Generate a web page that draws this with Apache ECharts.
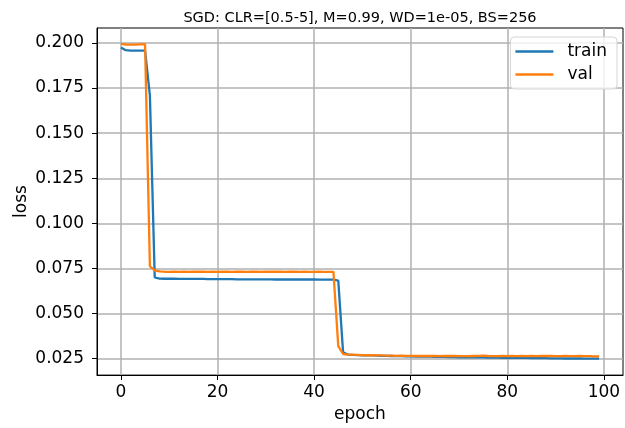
<!DOCTYPE html>
<html>
<head>
<meta charset="utf-8">
<script src="https://cdn.jsdelivr.net/npm/echarts@6/dist/echarts.min.js"></script>
<style>html,body{margin:0;padding:0;background:#fff;}#c{width:625px;height:428px;}</style>
</head>
<body>
<div id="c"></div>
<script>
const epochs = Array.from({length: 100}, (_, i) => i);
const train = [0.1975,0.1960,0.1958,0.1958,0.1958,0.1958,0.1710,0.0700,0.0694,0.0693,
 0.0693,0.0693,0.0692,0.0692,0.0692,0.0692,0.0692,0.0692,0.0691,0.0691,
 0.0691,0.0691,0.0691,0.0691,0.0690,0.0690,0.0690,0.0690,0.0690,0.0690,
 0.0690,0.0690,0.0689,0.0689,0.0689,0.0689,0.0689,0.0689,0.0689,0.0689,
 0.0689,0.0688,0.0688,0.0688,0.0688,0.0683,0.0285,0.0273,0.0271,0.0270,
 0.0269,0.0268,0.0268,0.0267,0.0266,0.0266,0.0265,0.0264,0.0264,0.0263,
 0.0263,0.0262,0.0262,0.0261,0.0261,0.0260,0.0260,0.0260,0.0259,0.0259,
 0.0258,0.0258,0.0258,0.0257,0.0257,0.0257,0.0256,0.0256,0.0256,0.0255,
 0.0255,0.0255,0.0254,0.0254,0.0254,0.0253,0.0253,0.0253,0.0253,0.0252,
 0.0252,0.0252,0.0251,0.0251,0.0251,0.0251,0.0250,0.0250,0.0250,0.0250];
const val = [0.1995,0.1991,0.1991,0.1991,0.1992,0.1993,0.0762,0.0740,0.0734,0.0732,
 0.0731,0.0732,0.0731,0.0732,0.0731,0.0732,0.0733,0.0732,0.0731,0.0732,
 0.0731,0.0732,0.0732,0.0731,0.0733,0.0732,0.0731,0.0733,0.0732,0.0731,
 0.0732,0.0732,0.0733,0.0732,0.0731,0.0732,0.0732,0.0731,0.0732,0.0731,
 0.0731,0.0732,0.0731,0.0731,0.0731,0.0320,0.0276,0.0273,0.0272,0.0271,
 0.0270,0.0269,0.0269,0.0268,0.0268,0.0267,0.0267,0.0266,0.0267,0.0266,
 0.0266,0.0265,0.0266,0.0265,0.0266,0.0265,0.0264,0.0265,0.0266,0.0265,
 0.0264,0.0264,0.0264,0.0265,0.0266,0.0267,0.0265,0.0264,0.0264,0.0265,
 0.0264,0.0265,0.0264,0.0265,0.0264,0.0265,0.0264,0.0265,0.0266,0.0265,
 0.0264,0.0264,0.0265,0.0264,0.0264,0.0265,0.0264,0.0264,0.0263,0.0263];
const xTicks = [0, 20, 40, 60, 80, 100];
const yTicks = [0.025, 0.050, 0.075, 0.100, 0.125, 0.150, 0.175, 0.200];

const FONT = 'DejaVu Sans';
const chart = echarts.init(document.getElementById('c'), null, {renderer: 'canvas'});
const gridLine = {show: true, lineStyle: {color: '#b0b0b0', width: 1.5}};
chart.setOption({
  animation: false,
  backgroundColor: '#fff',
  title: {
    text: 'SGD: CLR=[0.5-5], M=0.99, WD=1e-05, BS=256',
    left: 355, top: 6, textAlign: 'center',
    textStyle: {fontFamily: FONT, fontSize: 14.5, fontWeight: 'normal', color: '#000'}
  },
  legend: {
    orient: 'vertical', right: 8, top: 37,
    data: [{name: 'train', icon: 'rect'}, {name: 'val', icon: 'rect'}],
    itemWidth: 38, itemHeight: 2.5, itemGap: 6,
    padding: [6, 10, 6, 5],
    backgroundColor: 'rgba(255,255,255,0.8)',
    borderColor: '#d5d5d5', borderWidth: 1, borderRadius: 4,
    textStyle: {fontFamily: FONT, fontSize: 17, color: '#000', padding: [0, 0, 0, 9]}
  },
  grid: {left: 97, right: 2, top: 28, bottom: 50, show: true, borderColor: '#000', borderWidth: 1, backgroundColor: 'transparent', containLabel: false},
  xAxis: {
    type: 'value', min: -4.95, max: 103.95,
    name: 'epoch', nameLocation: 'middle', nameGap: 27,
    nameTextStyle: {fontFamily: FONT, fontSize: 17, color: '#000'},
    axisLine: {show: true, onZero: false, lineStyle: {color: '#000', width: 1}},
    axisTick: {show: true, length: 5, inside: false, customValues: xTicks, lineStyle: {color: '#000', width: 1}},
    axisLabel: {customValues: xTicks, fontFamily: FONT, fontSize: 17, color: '#000', margin: 9},
    splitLine: gridLine
  },
  yAxis: {
    type: 'value', min: 0.0159, max: 0.2083,
    name: 'loss', nameLocation: 'middle', nameGap: 67, nameRotate: 90, nameMoveOverlap: false,
    nameTextStyle: {fontFamily: FONT, fontSize: 17, color: '#000'},
    axisLine: {show: true, onZero: false, lineStyle: {color: '#000', width: 1}},
    axisTick: {show: true, length: 5, inside: false, customValues: yTicks, lineStyle: {color: '#000', width: 1}},
    axisLabel: {customValues: yTicks, fontFamily: FONT, fontSize: 17, color: '#000', margin: 13,
      formatter: v => v.toFixed(3)},
    splitLine: gridLine
  },
  series: [
    {name: 'train', type: 'line', data: epochs.map((e, i) => [e, train[i]]), showSymbol: false, symbol: 'none',
     lineStyle: {color: '#1f77b4', width: 2.3}, itemStyle: {color: '#1f77b4'}, z: 3},
    {name: 'val', type: 'line', data: epochs.map((e, i) => [e, val[i]]), showSymbol: false, symbol: 'none',
     lineStyle: {color: '#ff7f0e', width: 2.3}, itemStyle: {color: '#ff7f0e'}, z: 4}
  ]
});
</script>
</body>
</html>
